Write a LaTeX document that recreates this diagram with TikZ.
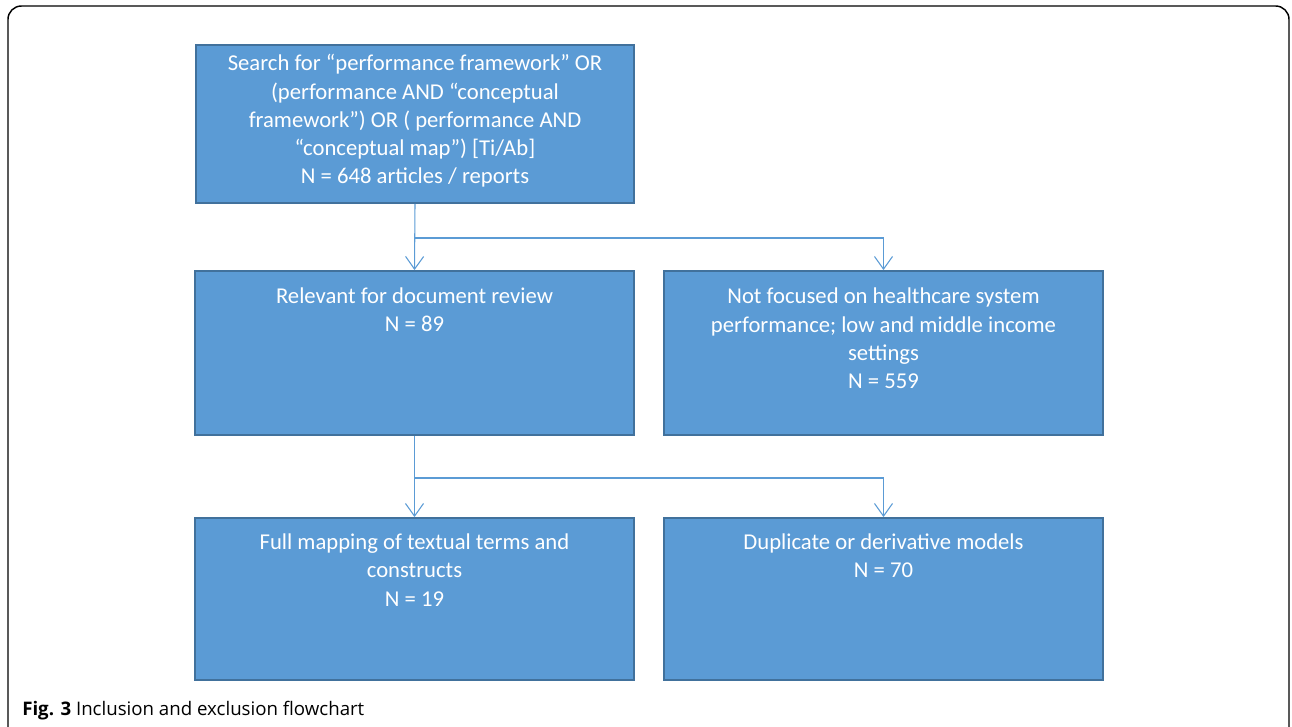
\documentclass[tikz,border=0pt]{standalone}
\usepackage{fontspec}
\setmainfont{Carlito}
\newfontfamily\capfont{Open Sans}
\usetikzlibrary{arrows.meta}

\definecolor{boxfill}{HTML}{5B9BD5}
\definecolor{boxline}{HTML}{41719C}

\tikzset{
  box/.style={rectangle, draw=boxline, fill=boxfill, line width=1.4pt, minimum width=329pt},
  txt/.style={text=white, align=center, font=\fontsize{17}{21.2}\selectfont},
  arr/.style={draw=boxfill, line width=0.8pt, -{Straight Barb[length=9.5pt,width=13.5pt]}}
}

\begin{document}
\begin{tikzpicture}[x=0.75pt,y=-0.75pt]

        \useasboundingbox (0,0) rectangle (1292,726);

        %outer frame, open at the bottom
        \begin{scope}
        \clip (0,0) rectangle (1292,726);
        \draw [line width=1.1pt, rounded corners=10pt] (8,760) -- (8,6) -- (1289,6) -- (1289,760);
        \end{scope}

        %search box
        \node [box, minimum height=118.5pt] (search) at (415,124) {};
        \node [txt] (searchtxt) at (415,121) {Search for “performance framework” OR\\(performance AND “conceptual\\framework”) OR ( performance AND\\“conceptual map”) [Ti/Ab]\\N = 648 articles / reports};

        %first level
        \node [box, minimum height=123pt] (relev) at (414.5,353) {};
        \node [txt] (relevtxt) at (414.5,310) {Relevant for document review\\N = 89};

        \node [box, minimum height=123pt] (notfoc) at (883.5,353) {};
        \node [txt] (notfoctxt) at (883.5,338.5) {Not focused on healthcare system\\performance; low and middle income\\settings\\N = 559};

        %second level
        \node [box, minimum height=121.5pt] (fullmap) at (414.5,599) {};
        \node [txt] (fullmaptxt) at (414.5,570) {Full mapping of textual terms and\\constructs\\N = 19};

        \node [box, minimum height=121.5pt] (dupl) at (883.5,599) {};
        \node [txt] (dupltxt) at (883.5,556) {Duplicate or derivative models\\N = 70};

        %connectors
        \coordinate (split1) at (415,238);
        \coordinate (split2) at (415,478);
        \draw [arr] (search.south) -- (relev.north);
        \draw [arr] (split1) -| (notfoc.north);
        \draw [arr] (relev.south) -- (fullmap.north);
        \draw [arr] (split2) -| (dupl.north);

        %caption
        \node [anchor=base west, font=\capfont\fontsize{14}{16}\selectfont, inner sep=0pt] (caption) at (22,715) {\textbf{Fig. 3} Inclusion and exclusion flowchart};

\end{tikzpicture}
\end{document}
